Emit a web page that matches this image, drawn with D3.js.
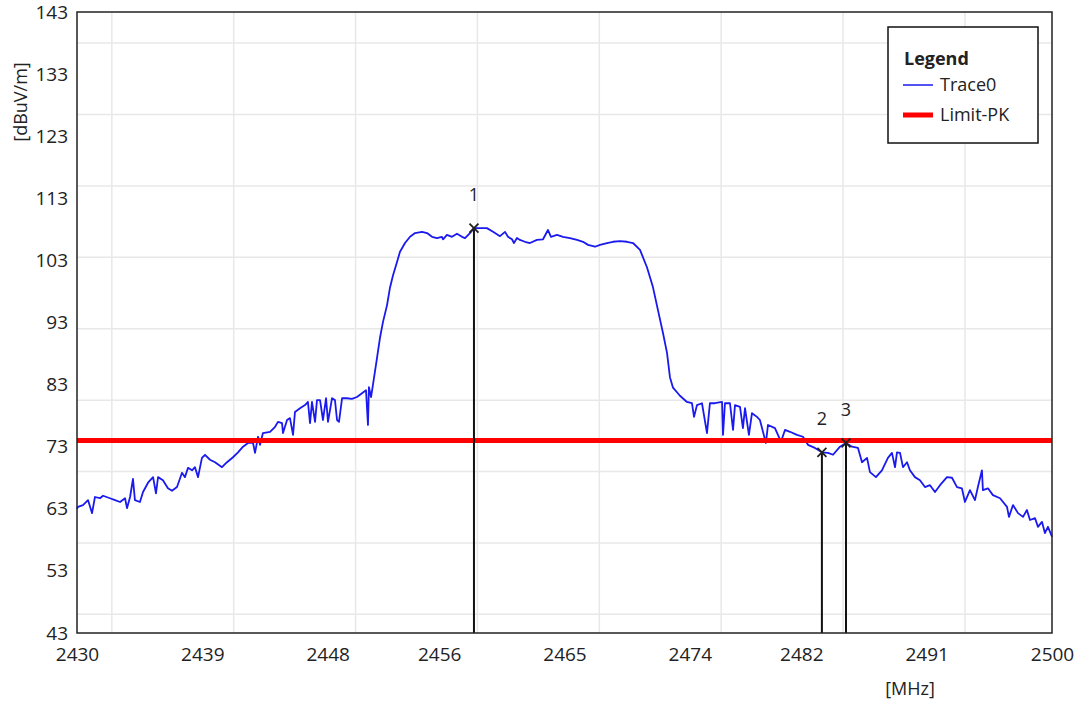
<!DOCTYPE html>
<html>
<head>
<meta charset="utf-8">
<script src="https://cdn.jsdelivr.net/npm/d3@7"></script>
<style>
  body { margin: 0; background: #fff; }
  text { font-family: "Open Sans", "Noto Sans", sans-serif; fill: #222; }
</style>
</head>
<body>
<div id="img"></div>
<script>
// x tick labels (MHz) and y tick labels (dBuV/m)
const xTicks = [2430, 2439, 2448, 2456, 2465, 2474, 2482, 2491, 2500];
const yTicks = [43, 53, 63, 73, 83, 93, 103, 113, 123, 133, 143];
// grid lines of the analyzer do not sit on the labels
const xGrid = [2432.5, 2441.25, 2450, 2458.75, 2467.5, 2476.25, 2485, 2493.75];
const yGrid = [46, 57.5, 69, 80.5, 92, 103.5, 115, 126.5, 138];

const limitPK = 74;

// Trace0
const freqMHz = [
  2430.0, 2430.07, 2430.43, 2430.79, 2431.08, 2431.29, 2431.65, 2431.87, 2432.37, 2432.73,
  2433.09, 2433.45, 2433.59, 2433.81, 2434.02, 2434.16, 2434.52, 2434.74, 2435.10, 2435.46,
  2435.67, 2435.82, 2436.17, 2436.53, 2436.82, 2437.18, 2437.54, 2437.75, 2437.97, 2438.26,
  2438.47, 2438.69, 2438.97, 2439.19, 2439.55, 2439.91, 2440.41, 2440.77, 2441.20, 2441.56,
  2441.92, 2442.28, 2442.64, 2442.78, 2443.00, 2443.14, 2443.35, 2443.86, 2444.22, 2444.43,
  2444.72, 2444.79, 2445.08, 2445.29, 2445.51, 2445.65, 2446.01, 2446.37, 2446.58, 2446.73,
  2446.87, 2447.09, 2447.23, 2447.45, 2447.66, 2447.88, 2448.02, 2448.31, 2448.52, 2448.67,
  2448.81, 2449.03, 2449.38, 2449.74, 2450.10, 2450.46, 2450.75, 2450.89, 2450.96, 2451.11,
  2451.25, 2451.54, 2451.75, 2451.97, 2452.26, 2452.47, 2452.69, 2452.97, 2453.19, 2453.55,
  2453.91, 2454.27, 2454.77, 2455.13, 2455.49, 2455.84, 2456.20, 2456.28, 2456.56, 2456.92,
  2457.28, 2457.64, 2457.86, 2458.21, 2458.50, 2458.93, 2459.43, 2459.87, 2460.37, 2460.73,
  2460.94, 2461.23, 2461.37, 2461.59, 2461.80, 2462.16, 2462.52, 2463.02, 2463.46, 2463.81,
  2464.03, 2464.46, 2464.89, 2465.39, 2465.90, 2466.33, 2466.69, 2467.19, 2467.55, 2468.05,
  2468.48, 2468.98, 2469.49, 2469.92, 2470.42, 2470.92, 2471.35, 2471.71, 2472.07, 2472.36,
  2472.57, 2472.79, 2473.29, 2473.79, 2474.15, 2474.30, 2474.51, 2474.87, 2475.23, 2475.44,
  2475.80, 2476.31, 2476.38, 2476.52, 2476.88, 2477.10, 2477.24, 2477.60, 2477.81, 2477.96,
  2478.24, 2478.46, 2478.82, 2479.03, 2479.46, 2479.61, 2480.11, 2480.54, 2480.83, 2481.19,
  2481.69, 2482.12, 2482.48, 2482.98, 2483.48, 2483.92, 2484.28, 2484.78, 2485.21, 2485.64,
  2486.07, 2486.36, 2486.72, 2486.93, 2487.36, 2487.79, 2488.22, 2488.51, 2488.73, 2488.87,
  2489.09, 2489.30, 2489.59, 2489.80, 2490.16, 2490.52, 2490.88, 2491.24, 2491.60, 2491.96,
  2492.46, 2492.82, 2493.18, 2493.53, 2493.75, 2494.11, 2494.47, 2494.68, 2494.97, 2495.04,
  2495.40, 2495.76, 2496.27, 2496.77, 2496.91, 2497.20, 2497.56, 2497.92, 2498.20, 2498.42,
  2498.78, 2498.99, 2499.28, 2499.49, 2499.71, 2500.0
];
const levelDb = [
  63.0, 63.3, 63.6, 64.4, 62.3, 64.9, 64.7, 65.1, 64.7, 64.4,
  64.1, 64.7, 63.1, 64.9, 67.8, 64.4, 64.1, 65.7, 67.2, 68.1,
  65.5, 68.1, 67.6, 66.3, 65.9, 66.5, 68.8, 68.1, 69.6, 69.2,
  69.7, 68.1, 71.2, 71.7, 70.9, 70.5, 69.7, 70.5, 71.3, 72.1,
  73.0, 73.6, 73.6, 72.0, 74.6, 73.3, 75.2, 75.4, 76.2, 77.0,
  76.8, 75.2, 77.3, 77.6, 74.9, 78.6, 79.2, 79.7, 80.2, 76.8,
  80.2, 77.0, 80.5, 80.5, 77.3, 80.8, 77.0, 80.8, 80.5, 77.3,
  77.0, 80.8, 80.8, 80.7, 81.0, 81.6, 82.1, 76.5, 82.6, 81.0,
  83.0, 87.3, 90.5, 93.1, 95.8, 98.6, 100.6, 102.7, 104.4, 105.8,
  106.8, 107.4, 107.6, 107.4, 106.8, 106.6, 106.8, 106.4, 107.1, 106.8,
  107.3, 106.8, 106.6, 107.4, 108.2, 108.2, 108.2, 107.6, 106.9, 107.6,
  106.8, 106.4, 105.8, 106.6, 106.3, 106.0, 105.8, 106.3, 106.4, 107.9,
  106.8, 107.1, 106.8, 106.6, 106.3, 106.0, 105.5, 105.2, 105.5, 105.8,
  106.0, 106.1, 106.0, 105.8, 104.7, 101.9, 98.7, 95.0, 91.3, 88.1,
  84.2, 82.5, 81.2, 80.2, 80.0, 77.8, 79.7, 80.0, 75.2, 80.0,
  80.0, 80.2, 74.9, 80.0, 80.0, 75.7, 79.7, 79.4, 76.0, 79.2,
  74.9, 78.4, 77.8, 77.3, 73.6, 76.5, 76.0, 73.8, 75.7, 75.4,
  74.9, 74.6, 73.3, 72.8, 72.1, 72.0, 71.7, 73.0, 73.6, 73.0,
  72.8, 70.5, 71.2, 68.9, 68.1, 69.2, 71.2, 72.0, 69.7, 72.1,
  72.0, 69.7, 70.5, 69.2, 68.1, 67.6, 66.5, 66.8, 65.7, 66.8,
  68.1, 68.0, 66.5, 66.3, 64.1, 66.0, 64.4, 66.5, 69.2, 66.0,
  66.3, 65.2, 64.7, 63.3, 61.7, 63.6, 62.3, 61.7, 62.8, 61.2,
  61.5, 60.1, 60.9, 59.1, 60.1, 58.5
];

// markers 1..3
const markerIds = ["1", "2", "3"];
const markerFreq = [2458.5, 2483.48, 2485.21];
const markerLevel = [108.2, 72.1, 73.6];

const legendNames = ["Trace0", "Limit-PK"];
const legendColors = ["#1a1aee", "#ff0000"];
const legendWidths = [1.5, 5];

const W = 1081, H = 701;
const mar = {top: 12, right: 29, bottom: 68, left: 77};

var svg = d3.select("#img").append("svg")
    .attr("width", W)
    .attr("height", H);

var x = d3.scaleLinear().domain([2430, 2500]).range([mar.left, W - mar.right]);
var y = d3.scaleLinear().domain([43, 143]).range([H - mar.bottom, mar.top]);

// grid
svg.append("g").selectAll("line").data(xGrid).enter().append("line")
    .attr("x1", d => x(d)).attr("x2", d => x(d))
    .attr("y1", y(43)).attr("y2", y(143))
    .attr("stroke", "#e8e8e8").attr("stroke-width", 1.5);
svg.append("g").selectAll("line").data(yGrid).enter().append("line")
    .attr("x1", x(2430)).attr("x2", x(2500))
    .attr("y1", d => y(d)).attr("y2", d => y(d))
    .attr("stroke", "#e8e8e8").attr("stroke-width", 1.5);

// axes (labels only, the frame is drawn below)
var xAxis = svg.append("g")
    .attr("transform", "translate(0," + y(43) + ")")
    .call(d3.axisBottom(x).tickValues(xTicks).tickSize(0).tickPadding(15).tickFormat(d3.format("d")));
var yAxis = svg.append("g")
    .attr("transform", "translate(" + x(2430) + ",0)")
    .call(d3.axisLeft(y).tickValues(yTicks).tickSize(0).tickPadding(9).tickFormat(d3.format("d")));
[xAxis, yAxis].forEach(function(a) {
    a.select(".domain").remove();
    a.selectAll("text").attr("font-size", 19).attr("fill", "#222")
        .attr("font-family", "'Open Sans', 'Noto Sans', sans-serif");
});

svg.append("text")
    .attr("transform", "translate(27," + 102 + ") rotate(-90)")
    .attr("text-anchor", "middle")
    .attr("font-size", 18)
    .text("[dBuV/m]");
svg.append("text")
    .attr("x", 910).attr("y", 695)
    .attr("text-anchor", "middle")
    .attr("font-size", 18)
    .text("[MHz]");

// trace
var trace = freqMHz.map((f, i) => [f, levelDb[i]]);
var line = d3.line().x(d => x(d[0])).y(d => y(d[1]));
svg.append("path")
    .datum(trace)
    .attr("d", line)
    .attr("fill", "none")
    .attr("stroke", legendColors[0])
    .attr("stroke-width", 1.8)
    .attr("stroke-linejoin", "round");

// limit line
svg.append("line")
    .attr("x1", x(2430)).attr("x2", x(2500))
    .attr("y1", y(limitPK)).attr("y2", y(limitPK))
    .attr("stroke", legendColors[1]).attr("stroke-width", 5);

// markers
var mk = svg.append("g").selectAll("g").data(markerIds).enter().append("g");
mk.append("line")
    .attr("x1", (d, i) => x(markerFreq[i])).attr("x2", (d, i) => x(markerFreq[i]))
    .attr("y1", (d, i) => y(markerLevel[i])).attr("y2", y(43))
    .attr("stroke", "#111").attr("stroke-width", 2);
mk.append("path")
    .attr("d", (d, i) => {
        var cx = x(markerFreq[i]), cy = y(markerLevel[i]);
        return "M" + (cx - 4.5) + "," + (cy - 4.5) + "L" + (cx + 4.5) + "," + (cy + 4.5) +
               "M" + (cx - 4.5) + "," + (cy + 4.5) + "L" + (cx + 4.5) + "," + (cy - 4.5);
    })
    .attr("stroke", "#222").attr("stroke-width", 1.8);
mk.append("text")
    .attr("x", (d, i) => x(markerFreq[i]))
    .attr("y", (d, i) => y(markerLevel[i]) - 27)
    .attr("text-anchor", "middle")
    .attr("font-size", 18)
    .text(d => d);

// frame
svg.append("rect")
    .attr("x", x(2430)).attr("y", y(143))
    .attr("width", x(2500) - x(2430)).attr("height", y(43) - y(143))
    .attr("fill", "none").attr("stroke", "#222").attr("stroke-width", 1.5);

// legend
var lg = svg.append("g").attr("transform", "translate(888,27)");
lg.append("rect")
    .attr("width", 150).attr("height", 116)
    .attr("fill", "#fff").attr("stroke", "#111").attr("stroke-width", 1.5);
lg.append("text")
    .attr("x", 16).attr("y", 38)
    .attr("font-size", 18).attr("font-weight", "bold")
    .attr("fill", "#111")
    .text("Legend");
var items = lg.selectAll(".item").data(legendNames).enter().append("g")
    .attr("class", "item")
    .attr("transform", (d, i) => "translate(0," + (58 + i * 30) + ")");
items.append("line")
    .attr("x1", 15).attr("x2", 45)
    .attr("stroke", (d, i) => legendColors[i])
    .attr("stroke-width", (d, i) => legendWidths[i]);
items.append("text")
    .attr("x", 52).attr("y", 6)
    .attr("font-size", 18)
    .text(d => d);
</script>
</body>
</html>
